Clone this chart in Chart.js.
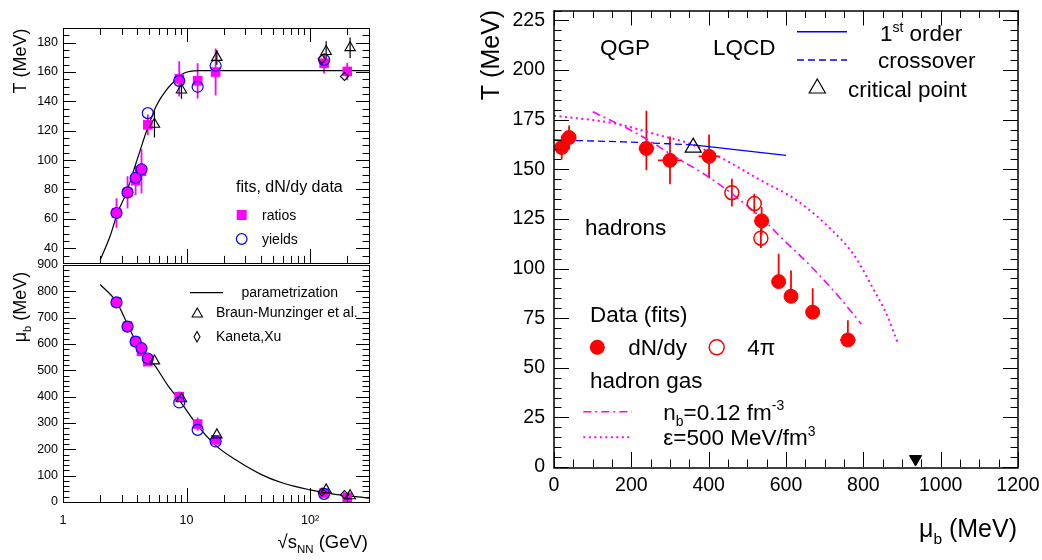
<!DOCTYPE html>
<html><head><meta charset="utf-8">
<script src="https://cdn.jsdelivr.net/npm/chart.js@4.4.1/dist/chart.umd.min.js"></script>
<style>
html,body{margin:0;padding:0;background:#fff}
body{position:relative;width:1042px;height:560px;overflow:hidden}
canvas{position:absolute;display:block}
</style></head><body>
<canvas id="cT" width="380" height="270" style="left:0;top:0"></canvas>
<canvas id="cM" width="380" height="305" style="left:0;top:255px"></canvas>
<canvas id="cR" width="572" height="560" style="left:470px;top:0"></canvas>
<script>
// ===================== DATA =====================
// Left panels: freeze-out parameters vs sqrt(s_NN) (GeV)
const sqrtS      = [2.71, 3.33, 3.87, 4.32, 4.86, 8.73, 12.3, 17.2, 130, 200];
const tRatios    = [64, 78, 86, 92.4, 124, 155.3, 154, 160, 166, 160.4];
const tRatiosErr = [10, 11, 10, 15, 7, 12, 12, 16, 7, 6];
const tYields    = [64, 78, 88, 93.8, 132, 154, 150, 164.3, 168.3, null];
const muRatios   = [760, 668, 610, 572, 533, 400, 296, 236, 34, 18];
const muRatiosErr= [12, 10, 10, 10, 10, 20, 25, 12, 6, 6];
const muYields   = [758, 666, 609, 584, 545, 378, 274, 230, 31, null];
const sqrtSBM    = [5.5, 9.1, 17.6, 135, 211];
const tBM        = [124.4, 147.8, 170, 174, 176.6];
const tBMErr     = [9, 6, 5, 7, 7];
const muBM       = [536, 392, 255, 46, 24];
const sqrtSKX    = [125, 190];
const tKX        = [168.8, 157];
const muKX       = [38, 28];
const paramTS    = [2.0, 2.4, 2.78, 3.27, 3.7, 4.19, 4.8, 5.7, 6.9, 8.8, 9.4, 12.5, 20, 50, 300];
const paramT     = [32, 48, 64.7, 78, 92, 106, 121, 137, 148, 157, 159, 161, 161, 161, 161];
const paramMuS   = [2.0, 2.71, 3.33, 3.87, 4.86, 5.5, 7, 8.8, 12.3, 17.2, 25, 40, 60, 100, 160, 300];
const paramMu    = [826, 760, 675, 612, 545, 520, 445, 385, 290, 215, 160, 105, 72, 46, 29, 15];
const logTicks      = [1, 10, 100];
const logTickLabels = ['1', '10', '10\u00B2'];
const tTicks  = [40, 60, 80, 100, 120, 140, 160, 180];
const muTicks = [0, 100, 200, 300, 400, 500, 600, 700, 800, 900];

// Right panel: T vs mu_b (MeV)
const muDNdy      = [20, 39, 239, 300, 401, 537, 581, 613, 669, 760];
const tDNdy       = [161, 166, 160.5, 154.5, 156.5, 124, 93.4, 86, 78, 64];
const tDNdyErrUp  = [6, 6, 19, 12, 11, 7, 14, 13, 12, 10];
const tDNdyErrDn  = [6, 6, 11, 12, 11, 7, 0, 0, 0, 0];
const muDNdyErr   = [0, 0, 20, 31, 27, 0, 0, 0, 0, 20];
const mu4pi       = [460, 518, 535];
const t4pi        = [138.2, 132.7, 115.3];
const t4piErr     = [7, 5, 5];
const muCross     = [0, 180, 360];
const tCross      = [164.8, 163.8, 162.3];
const muFirst     = [360, 480, 600];
const tFirst      = [162.3, 159.6, 157];
const muCrit      = [360];
const tCrit       = [161];
const muNb        = [100, 205, 250, 315, 385, 465, 550, 575, 670, 740, 795];
const tNb         = [179, 169, 164, 156, 148, 137, 123, 118, 100, 85, 72];
const muEps       = [0, 160, 275, 350, 440, 520, 630, 715, 775, 825, 860, 890];
const tEps        = [177, 173, 167, 163, 155, 146, 134, 120, 107, 90, 77, 62];
const muNucleon   = [935];
const tNucleon    = [4];
const muTicksR    = [0, 200, 400, 600, 800, 1000, 1200];
const tTicksR     = [0, 25, 50, 75, 100, 125, 150, 175, 200, 225];

// ===================== HELPERS =====================
const FONT = "'Liberation Sans', Arial, Helvetica, sans-serif";
Chart.defaults.font.family = FONT;
Chart.defaults.color = '#000';
const MAG = '#ff00ff', BLUE = '#0000ff', RED = '#ff0000', NONE = 'rgba(0,0,0,0)';

function pts(xs, ys) { return xs.map((x, i) => ({x: x, y: ys[i]})).filter(p => p.y !== null && p.y !== undefined); }
function setFont(ctx, s) { ctx.font = s + 'px ' + FONT; }
function rich(ctx, parts, x, y, size, align) {
  let w = 0;
  const seg = parts.map(p => {
    const s = (p.sub || p.sup) ? size * 0.62 : size;
    setFont(ctx, s);
    const m = ctx.measureText(p.t).width;
    w += m;
    return {t: p.t, s: s, w: m, dy: p.sub ? size * 0.28 : (p.sup ? -size * 0.42 : 0)};
  });
  let cx = align === 'right' ? x - w : (align === 'center' ? x - w / 2 : x);
  ctx.textAlign = 'left'; ctx.textBaseline = 'alphabetic'; ctx.fillStyle = '#000';
  seg.forEach(r => { setFont(ctx, r.s); ctx.fillText(r.t, cx, y + r.dy); cx += r.w; });
}
function rotRich(ctx, parts, bx, cy, size) {
  ctx.save(); ctx.translate(bx, cy); ctx.rotate(-Math.PI / 2);
  rich(ctx, parts, 0, 0, size, 'center'); ctx.restore();
}
function range(a, b, st) { const r = []; for (let v = a; v <= b + 1e-9; v += st) r.push(+v.toFixed(6)); return r; }
function logMinor(max) { const r = []; [1, 10, 100].forEach(d => { for (let k = 2; k <= 9; k++) if (k * d <= max) r.push(k * d); }); return r; }

function drawFrameTicks(chart, o) {
  const ctx = chart.ctx, a = chart.chartArea, X = chart.scales.x, Y = chart.scales.y;
  ctx.save(); ctx.strokeStyle = '#000'; ctx.lineWidth = 1; ctx.beginPath();
  const xt = (vals, len) => vals.forEach(v => {
    const p = X.getPixelForValue(v); if (p < a.left - 0.5 || p > a.right + 0.5) return;
    const x = Math.round(p) + 0.5;
    if (o.xBottom) { ctx.moveTo(x, a.bottom); ctx.lineTo(x, a.bottom - len); }
    if (o.xTop) { ctx.moveTo(x, a.top); ctx.lineTo(x, a.top + len); }
  });
  const yt = (vals, len) => vals.forEach(v => {
    const p = Y.getPixelForValue(v); if (p < a.top - 0.5 || p > a.bottom + 0.5) return;
    const y = Math.round(p) + 0.5;
    ctx.moveTo(a.left, y); ctx.lineTo(a.left + len, y);
    ctx.moveTo(a.right, y); ctx.lineTo(a.right - len, y);
  });
  xt(o.xMajor, o.xMaj); xt(o.xMinor, o.xMin); yt(o.yMajor, o.yMaj); yt(o.yMinor, o.yMin);
  ctx.stroke();
  ctx.lineWidth = o.frame;
  const off = o.frame % 2 === 1 ? 0.5 : 0;
  ctx.strokeRect(Math.round(a.left) + off, Math.round(a.top) + off, Math.round(a.right - a.left), Math.round(a.bottom - a.top));
  ctx.restore();
}
function errBars(chart, xs, ys, up, dn, xe, color, lw) {
  const X = chart.scales.x, Y = chart.scales.y, ctx = chart.ctx, a = chart.chartArea;
  ctx.save(); ctx.beginPath(); ctx.rect(a.left, a.top, a.right - a.left, a.bottom - a.top); ctx.clip();
  ctx.strokeStyle = color; ctx.lineWidth = lw; ctx.beginPath();
  xs.forEach((x, i) => {
    const y = ys[i]; if (y === null || y === undefined) return;
    const px = X.getPixelForValue(x), py = Y.getPixelForValue(y);
    const u = up ? up[i] : 0, d = dn ? dn[i] : u;
    if (u) { ctx.moveTo(px, py); ctx.lineTo(px, Y.getPixelForValue(y + u)); }
    if (d) { ctx.moveTo(px, py); ctx.lineTo(px, Y.getPixelForValue(y - d)); }
    if (xe && xe[i]) { ctx.moveTo(X.getPixelForValue(x - xe[i]), py); ctx.lineTo(X.getPixelForValue(x + xe[i]), py); }
  });
  ctx.stroke(); ctx.restore();
}
function yAxis(min, max, ticks, width, pad, size) {
  return {type: 'linear', position: 'left', min: min, max: max,
    afterBuildTicks: s => { s.ticks = ticks.map(v => ({value: v})); },
    afterFit: s => { s.width = width; s.paddingTop = 0; s.paddingBottom = 0; },
    grid: {display: false, drawTicks: false}, border: {display: false},
    ticks: {padding: pad, autoSkip: false, font: {size: size}, callback: v => String(v)}};
}
const baseOpts = {responsive: false, animation: false, events: [],
  plugins: {legend: {display: false}, tooltip: {enabled: false}}};

// ===================== TOP-LEFT: T vs sqrt(s) =====================
new Chart(document.getElementById('cT'), {
  type: 'scatter',
  data: {datasets: [
    {data: pts(sqrtSBM, tBM), pointStyle: 'triangle', pointRadius: 6, pointBorderColor: '#000', pointBackgroundColor: NONE, pointBorderWidth: 1.1},
    {data: pts(sqrtSKX, tKX), pointStyle: 'rectRot', pointRadius: 4, pointBorderColor: '#000', pointBackgroundColor: NONE, pointBorderWidth: 1.1},
    {data: pts(sqrtS, tYields), pointStyle: 'circle', pointRadius: 5.5, pointBorderColor: BLUE, pointBorderWidth: 1.2,
      pointBackgroundColor: c => (c.raw && c.raw.x < 4.5) ? MAG : NONE},
    {data: pts(sqrtS, tRatios), pointStyle: 'rect', pointRadius: 6.8, pointBorderColor: MAG, pointBackgroundColor: MAG, pointBorderWidth: 0},
    {data: pts(paramTS, paramT), showLine: true, pointRadius: 0, borderColor: '#000', borderWidth: 1.2, cubicInterpolationMode: 'monotone'}
  ]},
  options: Object.assign({}, baseOpts, {
    layout: {padding: {left: 0, top: 28, right: 11, bottom: 5}},
    scales: {
      x: {type: 'logarithmic', min: 1, max: 300, display: false},
      y: yAxis(30, 190, tTicks, 63, 5, 12.5)
    }
  }),
  plugins: [{
    id: 'pT',
    beforeDatasetsDraw(chart) {
      errBars(chart, sqrtS, tRatios, tRatiosErr, null, null, MAG, 1.8);
      errBars(chart, sqrtSBM, tBM, tBMErr, null, null, '#000', 1.2);
    },
    afterDraw(chart) {
      const ctx = chart.ctx;
      drawFrameTicks(chart, {xMajor: logTicks, xMinor: logMinor(300), yMajor: tTicks, yMinor: range(30, 190, 5).filter(v => v % 20 !== 0),
        xMaj: 14, xMin: 7, yMaj: 13, yMin: 6.5, xTop: true, xBottom: true, frame: 1});
      rotRich(ctx, [{t: 'T (MeV)'}], 26, 61, 18);
      rich(ctx, [{t: 'fits, dN/dy data'}], 236, 191.5, 16, 'left');
      ctx.fillStyle = MAG; ctx.fillRect(236.7, 210, 10, 10);
      ctx.strokeStyle = BLUE; ctx.lineWidth = 1.2; ctx.beginPath(); ctx.arc(241.7, 239, 5.3, 0, 2 * Math.PI); ctx.stroke();
      rich(ctx, [{t: 'ratios'}], 262, 220, 14, 'left');
      rich(ctx, [{t: 'yields'}], 262, 243.5, 14, 'left');
    }
  }]
});

// ===================== BOTTOM-LEFT: mu_b vs sqrt(s) =====================
new Chart(document.getElementById('cM'), {
  type: 'scatter',
  data: {datasets: [
    {data: pts(sqrtSBM, muBM), pointStyle: 'triangle', pointRadius: 6, pointBorderColor: '#000', pointBackgroundColor: NONE, pointBorderWidth: 1.1},
    {data: pts(sqrtSKX, muKX), pointStyle: 'rectRot', pointRadius: 4, pointBorderColor: '#000', pointBackgroundColor: NONE, pointBorderWidth: 1.1},
    {data: pts(sqrtS, muYields), pointStyle: 'circle', pointRadius: 5.5, pointBorderColor: BLUE, pointBorderWidth: 1.2,
      pointBackgroundColor: c => (c.raw && c.raw.x < 5) ? MAG : NONE},
    {data: pts(sqrtS, muRatios), pointStyle: 'rect', pointRadius: 6.8, pointBorderColor: MAG, pointBackgroundColor: MAG, pointBorderWidth: 0},
    {data: pts(paramMuS, paramMu), showLine: true, pointRadius: 0, borderColor: '#000', borderWidth: 1.2, cubicInterpolationMode: 'monotone'}
  ]},
  options: Object.assign({}, baseOpts, {
    layout: {padding: {left: 0, top: 10, right: 11, bottom: 18}},
    scales: {
      x: {type: 'logarithmic', position: 'bottom', min: 1, max: 300,
        afterBuildTicks: s => { s.ticks = logTicks.map(v => ({value: v})); },
        afterFit: s => { s.height = 40; s.paddingLeft = 0; s.paddingRight = 0; },
        grid: {display: false, drawTicks: false}, border: {display: false},
        ticks: {padding: 11, autoSkip: false, maxRotation: 0, font: {size: 12.5}, callback: (v, i) => logTickLabels[i]}},
      y: yAxis(0, 900, muTicks, 63, 5, 12.5)
    }
  }),
  plugins: [{
    id: 'pM',
    beforeDatasetsDraw(chart) {
      errBars(chart, sqrtS, muRatios, muRatiosErr, null, null, MAG, 1.8);
    },
    afterDraw(chart) {
      const ctx = chart.ctx;
      drawFrameTicks(chart, {xMajor: logTicks, xMinor: logMinor(300), yMajor: muTicks, yMinor: range(0, 900, 20).filter(v => v % 100 !== 0),
        xMaj: 14, xMin: 7, yMaj: 13, yMin: 6.5, xTop: false, xBottom: true, frame: 1});
      rotRich(ctx, [{t: '\u03BC'}, {t: 'b', sub: true}, {t: ' (MeV)'}], 26, 52, 18);
      rich(ctx, [{t: '\u221As'}, {t: 'NN', sub: true}, {t: ' (GeV)'}], 368, 292.5, 18.5, 'right');
      // legend
      ctx.strokeStyle = '#000'; ctx.lineWidth = 1.2; ctx.beginPath(); ctx.moveTo(190, 37.7); ctx.lineTo(223, 37.7); ctx.stroke();
      rich(ctx, [{t: 'parametrization'}], 241.5, 42.3, 14, 'left');
      ctx.lineWidth = 1.1; ctx.beginPath(); ctx.moveTo(197.3, 53); ctx.lineTo(202.5, 62); ctx.lineTo(192.1, 62); ctx.closePath(); ctx.stroke();
      rich(ctx, [{t: 'Braun-Munzinger et al.'}], 216, 61.7, 14, 'left');
      ctx.beginPath(); ctx.moveTo(197, 76.5); ctx.lineTo(200, 81.7); ctx.lineTo(197, 86.9); ctx.lineTo(194, 81.7); ctx.closePath(); ctx.stroke();
      rich(ctx, [{t: 'Kaneta,Xu'}], 216, 85.7, 14, 'left');
    }
  }]
});

// ===================== RIGHT: T vs mu_b =====================
new Chart(document.getElementById('cR'), {
  type: 'scatter',
  data: {datasets: [
    {data: pts(muNucleon, tNucleon), pointStyle: 'triangle', pointRotation: 180, pointRadius: 7, pointBorderColor: '#000', pointBackgroundColor: '#000', pointBorderWidth: 1},
    {data: pts(muCrit, tCrit), pointStyle: 'triangle', pointRadius: 9.3, pointBorderColor: '#000', pointBackgroundColor: NONE, pointBorderWidth: 1.2},
    {data: pts(mu4pi, t4pi), pointStyle: 'circle', pointRadius: 7, pointBorderColor: RED, pointBackgroundColor: NONE, pointBorderWidth: 1.5},
    {data: pts(muDNdy, tDNdy), pointStyle: 'circle', pointRadius: 7, pointBorderColor: RED, pointBackgroundColor: RED, pointBorderWidth: 1},
    {data: pts(muFirst, tFirst), showLine: true, pointRadius: 0, borderColor: BLUE, borderWidth: 1.3, cubicInterpolationMode: 'monotone'},
    {data: pts(muCross, tCross), showLine: true, pointRadius: 0, borderColor: BLUE, borderWidth: 1.3, borderDash: [7, 4], cubicInterpolationMode: 'monotone'},
    {data: pts(muNb, tNb), showLine: true, pointRadius: 0, borderColor: MAG, borderWidth: 1.6, borderDash: [8, 4, 2, 4], cubicInterpolationMode: 'monotone'},
    {data: pts(muEps, tEps), showLine: true, pointRadius: 0, borderColor: MAG, borderWidth: 2, borderDash: [2, 3.5], cubicInterpolationMode: 'monotone'}
  ]},
  options: Object.assign({}, baseOpts, {
    layout: {padding: {left: 0, top: 5, right: 24, bottom: 53}},
    scales: {
      x: {type: 'linear', position: 'bottom', min: 0, max: 1200,
        afterBuildTicks: s => { s.ticks = muTicksR.map(v => ({value: v})); },
        afterFit: s => { s.height = 40; s.paddingLeft = 0; s.paddingRight = 0; },
        grid: {display: false, drawTicks: false}, border: {display: false},
        ticks: {padding: 7, autoSkip: false, maxRotation: 0, font: {size: 19.5}, callback: v => String(v)}},
      y: yAxis(0, 230, tTicksR, 84, 9, 19.5)
    }
  }),
  plugins: [{
    id: 'pR',
    beforeDatasetsDraw(chart) {
      errBars(chart, muDNdy, tDNdy, tDNdyErrUp, tDNdyErrDn, muDNdyErr, RED, 1.8);
      errBars(chart, mu4pi, t4pi, t4piErr, null, null, RED, 1.8);
    },
    afterDraw(chart) {
      const ctx = chart.ctx;
      drawFrameTicks(chart, {xMajor: muTicksR, xMinor: range(0, 1200, 50).filter(v => v % 200 !== 0), yMajor: tTicksR, yMinor: range(0, 230, 5).filter(v => v % 25 !== 0),
        xMaj: 15, xMin: 7.5, yMaj: 15, yMin: 7.5, xTop: true, xBottom: true, frame: 1.5});
      rotRich(ctx, [{t: 'T (MeV)'}], 29, 55, 25);
      rich(ctx, [{t: '\u03BC'}, {t: 'b', sub: true}, {t: ' (MeV)'}], 547, 537, 25, 'right');
      const F = 22.5;
      rich(ctx, [{t: 'QGP'}], 130, 55, F, 'left');
      rich(ctx, [{t: 'LQCD'}], 243, 55, F, 'left');
      rich(ctx, [{t: 'hadrons'}], 115, 235, F, 'left');
      // phase-boundary legend
      ctx.save();
      ctx.strokeStyle = BLUE; ctx.lineWidth = 1.5;
      ctx.beginPath(); ctx.moveTo(327, 31.7); ctx.lineTo(377, 31.7); ctx.stroke();
      ctx.setLineDash([7, 4]); ctx.beginPath(); ctx.moveTo(327, 60); ctx.lineTo(377, 60); ctx.stroke();
      ctx.setLineDash([]);
      ctx.strokeStyle = '#000'; ctx.lineWidth = 1.2;
      ctx.beginPath(); ctx.moveTo(347.3, 79); ctx.lineTo(355.4, 93); ctx.lineTo(339.2, 93); ctx.closePath(); ctx.stroke();
      ctx.restore();
      rich(ctx, [{t: '1'}, {t: 'st', sup: true}, {t: ' order'}], 410, 41, F, 'left');
      rich(ctx, [{t: 'crossover'}], 408, 67.7, F, 'left');
      rich(ctx, [{t: 'critical point'}], 378, 96.7, F, 'left');
      // data legend
      rich(ctx, [{t: 'Data (fits)'}], 120, 321.7, F, 'left');
      ctx.save();
      ctx.fillStyle = RED; ctx.beginPath(); ctx.arc(127.3, 347.3, 7.5, 0, 2 * Math.PI); ctx.fill();
      ctx.strokeStyle = RED; ctx.lineWidth = 1.5; ctx.beginPath(); ctx.arc(246.7, 347.3, 7.5, 0, 2 * Math.PI); ctx.stroke();
      ctx.restore();
      rich(ctx, [{t: 'dN/dy'}], 158.3, 355, F, 'left');
      rich(ctx, [{t: '4\u03C0'}], 277.3, 355, F, 'left');
      rich(ctx, [{t: 'hadron gas'}], 120, 388.3, F, 'left');
      ctx.save();
      ctx.strokeStyle = MAG; ctx.lineWidth = 1.6; ctx.setLineDash([8, 4, 2, 4]);
      ctx.beginPath(); ctx.moveTo(113.3, 411.7); ctx.lineTo(161.7, 411.7); ctx.stroke();
      ctx.lineWidth = 2; ctx.setLineDash([2, 3.5]);
      ctx.beginPath(); ctx.moveTo(113.3, 437.3); ctx.lineTo(161.7, 437.3); ctx.stroke();
      ctx.restore();
      rich(ctx, [{t: 'n'}, {t: 'b', sub: true}, {t: '=0.12 fm'}, {t: '-3', sup: true}], 193.3, 419.5, F, 'left');
      rich(ctx, [{t: '\u03B5=500 MeV/fm'}, {t: '3', sup: true}], 193.3, 445, F, 'left');
    }
  }]
});
</script>
</body></html>
